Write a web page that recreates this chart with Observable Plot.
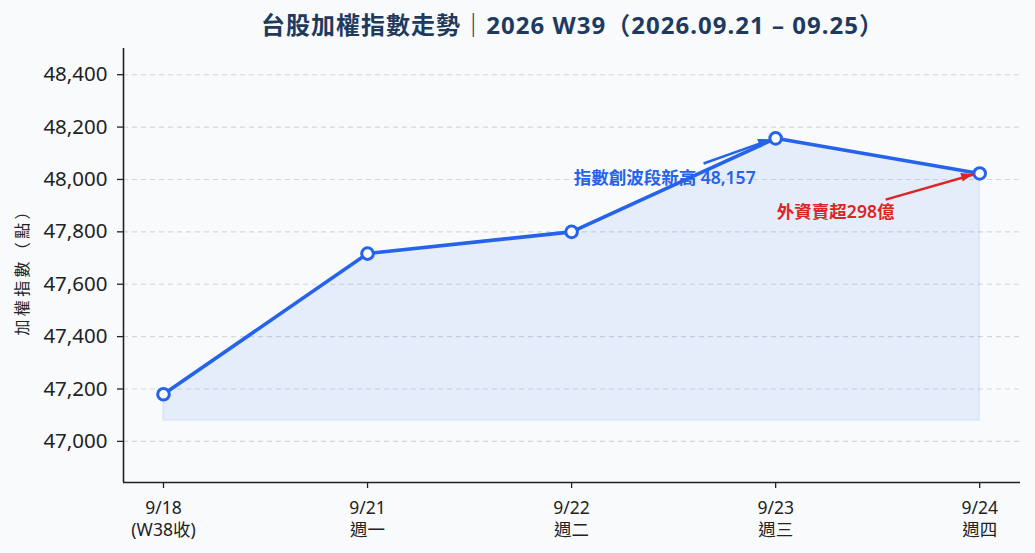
<!DOCTYPE html>
<html>
<head>
<meta charset="utf-8">
<script src="https://cdn.jsdelivr.net/npm/d3@7"></script>
<script src="https://cdn.jsdelivr.net/npm/@observablehq/plot@0.6"></script>
<style>
  html, body { margin: 0; padding: 0; background: #f8fafc; }
  #chart svg { display: block; }
</style>
</head>
<body>
<div id="chart"></div>
<script>
// ---- data ----
const dates = ["9/18", "9/21", "9/22", "9/23", "9/24"];
const dayLabels = ["(W38收)", "週一", "週二", "週三", "週四"];
const closes = [47180, 47717, 47800, 48157, 48023];
const yTicks = [47000, 47200, 47400, 47600, 47800, 48000, 48200, 48400];
const areaBase = 47080;

const title = "台股加權指數走勢｜2026 W39（2026.09.21 – 09.25）";
const yLabel = "加權指數（點）";

const annoTexts = ["指數創波段新高 48,157", "外資賣超298億"];
const annoColors = ["#2563eb", "#dc2626"];
const annoTextX = [2.456, 3.294];
const annoTextY = [48003, 47874];
const arrowX1 = [2.647, 3.539];
const arrowY1 = [48061, 47923];
const arrowX2 = [2.975, 3.970];
const arrowY2 = [48152, 48019];

// ---- build tables ----
const rows = closes.map((v, i) => ({i, v}));
const annos = annoTexts.map((t, k) => ({
  t, c: annoColors[k], tx: annoTextX[k], ty: annoTextY[k],
  x1: arrowX1[k], y1: arrowY1[k], x2: arrowX2[k], y2: arrowY2[k]
}));

const xDomain = [-0.196, 4.2];
const yDomain = [46843, 48500];
const blue = "#2563eb";
const font = "'Noto Sans', 'Noto Sans CJK TC', sans-serif";
const cjk = "'Noto Sans CJK TC', sans-serif";

// filled arrowheads drawn through the plot's scales
function arrowHeads(index, scales) {
  const g = d3.create("svg:g");
  for (const a of annos) {
    const px1 = scales.x(a.x1), py1 = scales.y(a.y1);
    const px2 = scales.x(a.x2), py2 = scales.y(a.y2);
    const ang = Math.atan2(py2 - py1, px2 - px1);
    const L = 12, W = 4.5;
    const bx = px2 - L * Math.cos(ang), by = py2 - L * Math.sin(ang);
    const nx = -Math.sin(ang) * W, ny = Math.cos(ang) * W;
    g.append("polygon")
      .attr("points", `${px2},${py2} ${bx + nx},${by + ny} ${bx - nx},${by - ny}`)
      .attr("fill", a.c);
  }
  return g.node();
}

const chart = Plot.plot({
  width: 1035,
  height: 553,
  marginLeft: 123,
  marginRight: 15,
  marginTop: 48,
  marginBottom: 71,
  style: {background: "#f8fafc", fontFamily: font, color: "#222"},
  x: {domain: xDomain, axis: null},
  y: {domain: yDomain, axis: null},
  marks: [
    Plot.gridY(yTicks, {stroke: "#c9ced6", strokeOpacity: 0.8, strokeDasharray: "5,4", strokeWidth: 1.1}),
    Plot.areaY(rows, {x: "i", y1: areaBase, y2: "v", fill: blue, fillOpacity: 0.085, stroke: blue, strokeOpacity: 0.08, strokeWidth: 2}),
    Plot.line(rows, {x: "i", y: "v", stroke: blue, strokeWidth: 3.6}),
    Plot.dot(rows, {x: "i", y: "v", r: 5.8, fill: "white", stroke: blue, strokeWidth: 3}),
    Plot.axisY(yTicks, {anchor: "left", tickSize: 6, tickPadding: 10, fontSize: 20.5, tickFormat: d3.format(","), label: null, stroke: "#222", strokeWidth: 1.3, fill: "#222"}),
    Plot.axisX([0, 1, 2, 3, 4], {anchor: "bottom", tickSize: 6, tickPadding: 9, fontSize: 17.5, label: null,
      tickFormat: (d) => dates[d] + "\n" + dayLabels[d], stroke: "#222", strokeWidth: 1.3, fill: "#222", lineHeight: 1.3}),
    Plot.ruleX([xDomain[0]], {stroke: "#222", strokeWidth: 1.6}),
    Plot.ruleY([yDomain[0]], {stroke: "#222", strokeWidth: 1.6}),
    Plot.link(annos, {x1: "x1", y1: "y1", x2: "x2", y2: "y2", stroke: "c", strokeWidth: 2.5}),
    arrowHeads,
    Plot.text(annos, {x: "tx", y: "ty", text: "t", fill: "c", fontSize: 17.5, fontWeight: 600}),
    Plot.text([title], {frameAnchor: "top", lineAnchor: "middle", dy: -22, fontSize: 24, fontWeight: 700, fill: "#1e3a5f", className: "ttl"}),
    Plot.text([yLabel], {frameAnchor: "left", textAnchor: "middle", dx: -101, dy: 4, rotate: -90, fontSize: 16, fontFamily: cjk, fill: "#222", className: "ylab"})
  ]
});
document.getElementById("chart").appendChild(chart);
// stretch letter spacing of title / y label to match reference widths
d3.select(chart).selectAll(".ttl text").attr("textLength", 622).attr("lengthAdjust", "spacing");
d3.select(chart).selectAll(".ylab text").attr("textLength", 132).attr("lengthAdjust", "spacing");
</script>
</body>
</html>
